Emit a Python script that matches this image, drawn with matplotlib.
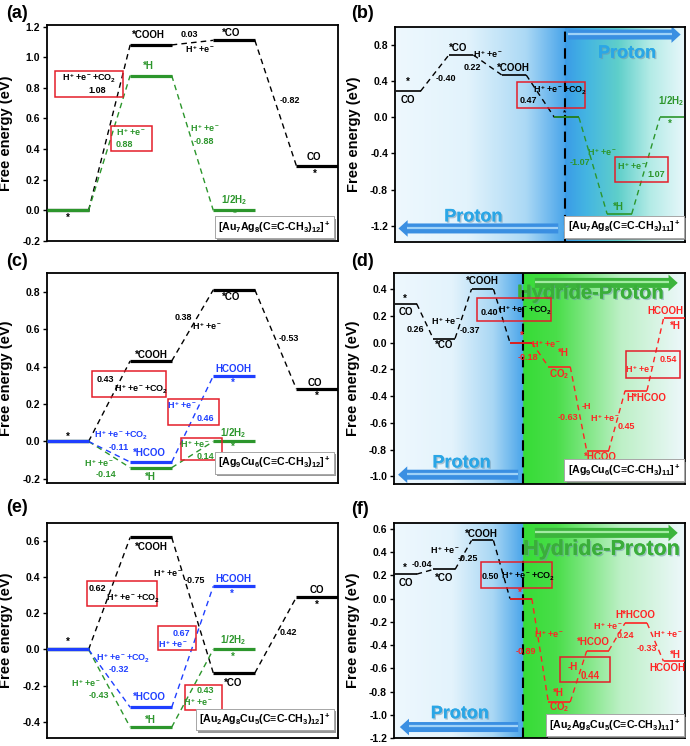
import numpy as np
import matplotlib.pyplot as plt
import matplotlib.colors as mcolors
import matplotlib.patheffects as pe
from matplotlib.patches import Rectangle

plt.rcParams['font.family'] = ['Liberation Sans', 'DejaVu Sans']
plt.rcParams['font.weight'] = 'bold'
plt.rcParams['mathtext.default'] = 'regular'
plt.rcParams['axes.linewidth'] = 1.3

GREEN = '#2c962c'
BLUE = '#1f3fff'
RED = '#ff2424'
BOXRED = '#e41e2a'

# free energies (eV) of each pathway, in drawing order
a_co = [0.0, 1.08, 1.11, 0.29]        # *, *COOH, *CO, CO
a_h2 = [0.0, 0.88, 0.0]               # *, *H, 1/2H2
b_co = [0.29, 0.69, 0.47, 0.0]        # CO, *CO, *COOH, *
b_h2 = [0.0, -1.07, 0.0]              # *, *H, 1/2H2
c_co = [0.0, 0.43, 0.81, 0.28]
c_hcooh = [0.0, -0.11, 0.35]          # *, *HCOO, HCOOH
c_h2 = [0.0, -0.14, 0.0]
d_co = [0.29, 0.03, 0.40, 0.0]
d_hcooh = [0.0, -0.18, -0.81, -0.36, 0.18]   # *, *H/CO2, *HCOO, H*HCOO, HCOOH/*H
e_co = [0.0, 0.62, -0.13, 0.29]
e_hcooh = [0.0, -0.32, 0.35]
e_h2 = [0.0, -0.43, 0.0]
f_co = [0.21, 0.25, 0.50, 0.0]
f_hcooh = [0.0, -0.89, -0.45, -0.21, -0.54]

a_ticks = [-0.2, 0.0, 0.2, 0.4, 0.6, 0.8, 1.0, 1.2]
b_ticks = [-1.2, -0.8, -0.4, 0.0, 0.4, 0.8]
c_ticks = [-0.2, 0.0, 0.2, 0.4, 0.6, 0.8]
d_ticks = [-1.0, -0.8, -0.6, -0.4, -0.2, 0.0, 0.2, 0.4]
e_ticks = [-0.4, -0.2, 0.0, 0.2, 0.4, 0.6]
f_ticks = [-1.2, -1.0, -0.8, -0.6, -0.4, -0.2, 0.0, 0.2, 0.4, 0.6]

formulas = [r'[Au$_7$Ag$_8$(C≡C-CH$_3$)$_{12}$]$^+$',
            r'[Au$_7$Ag$_8$(C≡C-CH$_3$)$_{11}$]$^+$',
            r'[Ag$_9$Cu$_6$(C≡C-CH$_3$)$_{12}$]$^+$',
            r'[Ag$_9$Cu$_6$(C≡C-CH$_3$)$_{11}$]$^+$',
            r'[Au$_2$Ag$_8$Cu$_5$(C≡C-CH$_3$)$_{12}$]$^+$',
            r'[Au$_2$Ag$_8$Cu$_5$(C≡C-CH$_3$)$_{11}$]$^+$']

HE = r'H$^+$+e$^-$'
HEC = r'H$^+$+e$^-$+CO$_2$'

fig = plt.figure(figsize=(6.9, 7.46), dpi=100)


def make_ax(l, r, t, b):
    return fig.add_axes([l / 690, 1 - b / 746, (r - l) / 690, (b - t) / 746])


def style(ax, ylim, xlim, ticks):
    ax.set_xlim(*xlim)
    ax.set_ylim(*ylim)
    ax.set_xticks([])
    ax.set_yticks(ticks)
    ax.set_yticklabels([f'{v:.1f}' for v in ticks])
    ax.tick_params(axis='y', labelsize=7.5, width=1, length=3, pad=2)
    ax.set_ylabel('Free energy (eV)', fontsize=10.5, fontweight='bold')
    ax.yaxis.set_label_coords(-0.118, 0.5)


def path(ax, energies, first, color, step, off, width, lw):
    for k, e in enumerate(energies):
        x0 = off + (first + k) * step
        ax.plot([x0, x0 + width], [e, e], color=color, lw=lw,
                solid_capstyle='butt', zorder=3)
        if k:
            xp = off + (first + k - 1) * step + width
            ax.plot([xp, x0], [energies[k - 1], e], color=color, lw=1.0,
                    ls=(0, (4, 3)), zorder=2)


def t(ax, x, y, s, c='black', fs=7, ha='center'):
    ax.text(x, y, s, color=c, fontsize=fs, ha=ha, va='center', zorder=5)


def box(ax, x0, x1, y0, y1):
    ax.add_patch(Rectangle((x0, y0), x1 - x0, y1 - y0, fill=False,
                           ec=BOXRED, lw=1.1, zorder=4))


def formula(ax, x, y, s):
    txt = ax.text(x, y, s, transform=ax.transAxes, ha='right', va='bottom',
                  fontsize=7.7, zorder=6,
                  bbox=dict(boxstyle='square,pad=0.3', fc='white', ec='#a0a0a0', lw=0.6))
    txt.get_bbox_patch().set_path_effects(
        [pe.withSimplePatchShadow(offset=(1.8, -1.8), shadow_rgbFace='#808080', alpha=0.8),
         pe.Normal()])


def background(ax, stops):
    pos = [p for p, c in stops]
    cols = np.array([mcolors.to_rgb(c) for p, c in stops])
    xx = np.linspace(0, 1, 800)
    img = np.stack([np.interp(xx, pos, cols[:, i]) for i in range(3)], axis=-1)[None, :, :]
    ax.imshow(img, extent=(0, 1, 0, 1), transform=ax.transAxes, aspect='auto',
              zorder=0, interpolation='bilinear')


def arrow(ax, x0, x1, y, color, light):
    ax.annotate('', xy=(x1, y), xytext=(x0, y), xycoords='axes fraction',
                arrowprops=dict(arrowstyle='simple,head_length=0.55,head_width=1.0,tail_width=0.6',
                                fc=color, ec='none', mutation_scale=12,
                                shrinkA=0, shrinkB=0), zorder=1.5)
    xe = x1 - 0.03 if x1 > x0 else x1 + 0.03
    ax.plot([x0, xe], [y + 0.004, y + 0.004], color=light, lw=1.6,
            transform=ax.transAxes, zorder=1.6, solid_capstyle='butt')


def big_text(ax, x, y, s, color, fs):
    ax.text(x, y, s, transform=ax.transAxes, color=color, fontsize=fs,
            ha='center', va='center', zorder=1.7,
            path_effects=[pe.withSimplePatchShadow(offset=(1, -1), shadow_rgbFace='#6a8fa8', alpha=0.5),
                          pe.Normal()])


def vline(ax, x):
    ax.axvline(x, color='black', lw=1.5, ls=(0, (5, 3)), zorder=2.5)


# ---------------- (a)
ax = make_ax(47, 338, 25, 241)
path(ax, a_co, 0, 'black', 2, 0, 1, 2.3)
path(ax, a_h2, 0, GREEN, 2, 0, 1, 2.3)
style(ax, (-0.2, 1.21), (0, 7), a_ticks)
t(ax, 0.5, -0.05, '*')
t(ax, 2.45, 1.145, '*COOH')
t(ax, 3.42, 1.15, '0.03', fs=6.5)
t(ax, 3.68, 1.05, HE, fs=6.5)
t(ax, 4.42, 1.16, '*CO')
t(ax, 5.85, 0.717, '-0.82', fs=6.5)
t(ax, 6.42, 0.35, 'CO')
t(ax, 6.45, 0.24, '*')
box(ax, 0.2, 1.84, 0.739, 0.911)
t(ax, 1.02, 0.863, HEC, fs=6.5)
t(ax, 1.22, 0.783, '1.08', fs=6.5)
t(ax, 2.45, 0.94, '*H', c=GREEN)
box(ax, 1.53, 2.53, 0.385, 0.552)
t(ax, 2.03, 0.51, HE, c=GREEN, fs=6.5)
t(ax, 1.87, 0.428, '0.88', c=GREEN, fs=6.5)
t(ax, 3.8, 0.537, HE, c=GREEN, fs=6.5)
t(ax, 3.77, 0.45, '-0.88', c=GREEN, fs=6.5)
t(ax, 4.5, 0.065, r'1/2H$_2$', c=GREEN)
t(ax, 4.52, -0.022, '*', c=GREEN)
formula(ax, 0.975, 0.03, formulas[0])

# ---------------- (b)
ax = make_ax(395, 685, 27, 242)
background(ax, [(0, '#eef8fe'), (0.25, '#e2f3fc'), (0.45, '#acd9f5'),
                (0.586, '#4aa5ea'), (0.5862, '#3a9be7'), (0.66, '#44b5e2'),
                (0.77, '#5fcfca'), (0.88, '#b3ebe6'), (1.0, '#e8f7fb')])
arrow(ax, 0.598, 0.985, 0.965, '#3a8fe2', '#9fd2f7')
arrow(ax, 0.563, 0.012, 0.063, '#3a8fe2', '#9fd2f7')
big_text(ax, 0.80, 0.878, 'Proton', '#2aa6e6', 13)
big_text(ax, 0.27, 0.117, 'Proton', '#2aa6e6', 13)
path(ax, b_co, 0, 'black', 0.99, 0.02, 0.46, 1.2)
path(ax, b_h2, 3, GREEN, 0.99, 0.02, 0.46, 1.2)
vline(ax, 3.19)
style(ax, (-1.38, 1.0), (0, 5.44), b_ticks)
t(ax, 0.25, 0.39, '*')
t(ax, 0.25, 0.19, 'CO')
t(ax, 0.96, 0.426, '-0.40', fs=6.5)
t(ax, 1.19, 0.763, '*CO')
t(ax, 1.75, 0.70, HE, fs=6.5)
t(ax, 1.46, 0.557, '0.22', fs=6.5)
t(ax, 2.22, 0.55, '*COOH')
box(ax, 2.28, 3.56, 0.108, 0.393)
t(ax, 3.09, 0.295, HEC, fs=6.5)
t(ax, 2.5, 0.187, '0.47', fs=6.5)
t(ax, 3.19, 0.05, '*', fs=6)
t(ax, 3.47, -0.505, '-1.07', c=GREEN, fs=6.5)
t(ax, 3.88, -0.385, HE, c=GREEN, fs=6.5)
t(ax, 4.19, -0.99, '*H', c=GREEN)
box(ax, 4.13, 5.13, -0.72, -0.44)
t(ax, 4.44, -0.535, HE, c=GREEN, fs=6.5)
t(ax, 4.9, -0.628, '1.07', c=GREEN, fs=6.5)
t(ax, 5.18, 0.176, r'1/2H$_2$', c=GREEN)
t(ax, 5.16, -0.067, '*', c=GREEN)
formula(ax, 0.985, 0.035, formulas[1])

# ---------------- (c)
ax = make_ax(47, 338, 273, 483)
path(ax, c_co, 0, 'black', 2, 0, 1, 2.3)
path(ax, c_h2, 0, GREEN, 2, 0, 1, 2.3)
path(ax, c_hcooh, 0, BLUE, 2, 0, 1, 2.3)
style(ax, (-0.222, 0.9), (0, 7), c_ticks)
t(ax, 0.5, 0.027, '*')
t(ax, 2.51, 0.464, '*COOH')
box(ax, 1.09, 2.86, 0.236, 0.375)
t(ax, 1.41, 0.33, '0.43', fs=6.5)
t(ax, 2.27, 0.277, HEC, fs=6.5)
t(ax, 3.27, 0.664, '0.38', fs=6.5)
t(ax, 3.84, 0.616, HE, fs=6.5)
t(ax, 4.44, 0.773, '*CO')
t(ax, 5.81, 0.548, '-0.53', fs=6.5)
t(ax, 6.45, 0.312, 'CO')
t(ax, 6.48, 0.241, '*')
t(ax, 4.48, 0.389, 'HCOOH', c=BLUE)
t(ax, 4.48, 0.312, '*', c=BLUE)
box(ax, 2.91, 4.14, 0.089, 0.229)
t(ax, 3.26, 0.193, HE, c=BLUE, fs=6.5)
t(ax, 3.82, 0.121, '0.46', c=BLUE, fs=6.5)
t(ax, 1.79, 0.03, HEC, c=BLUE, fs=6.5)
t(ax, 1.73, -0.03, '-0.11', c=BLUE, fs=6.5)
t(ax, 2.47, -0.062, '*HCOO', c=BLUE)
t(ax, 1.26, -0.116, HE, c=GREEN, fs=6.5)
t(ax, 1.41, -0.175, '-0.14', c=GREEN, fs=6.5)
t(ax, 2.49, -0.188, '*H', c=GREEN)
box(ax, 3.23, 4.2, -0.098, 0.021)
t(ax, 3.56, -0.013, HE, c=GREEN, fs=6.5)
t(ax, 3.82, -0.08, '0.14', c=GREEN, fs=6.5)
t(ax, 4.48, 0.045, r'1/2H$_2$', c=GREEN)
t(ax, 4.48, -0.03, '*', c=GREEN)
formula(ax, 0.975, 0.06, formulas[2])

# ---------------- (d)
ax = make_ax(394, 685, 273, 484)
background(ax, [(0, '#eef8fe'), (0.2, '#e3f3fc'), (0.34, '#a9d7f4'),
                (0.444, '#4aa5ea'), (0.4442, '#36dc36'), (0.56, '#4ade4a'),
                (0.78, '#bdf0c6'), (1.0, '#eef8fc')])
arrow(ax, 0.484, 0.975, 0.953, '#3cb43c', '#a2eba2')
arrow(ax, 0.427, 0.014, 0.044, '#3a8fe2', '#9fd2f7')
big_text(ax, 0.675, 0.905, 'Hydride-Proton', '#3aae3a', 14.5)
big_text(ax, 0.232, 0.10, 'Proton', '#2aa6e6', 13)
path(ax, d_co, 0, 'black', 1, 0.02, 0.57, 1.2)
path(ax, d_hcooh, 3, RED, 1, 0.02, 0.57, 1.2)
vline(ax, 3.35)
style(ax, (-1.058, 0.52), (0, 7.58), d_ticks)
t(ax, 0.28, 0.325, '*')
t(ax, 0.3, 0.226, 'CO')
t(ax, 0.56, 0.096, '0.26', fs=6.5)
t(ax, 1.37, 0.163, HE, fs=6.5)
t(ax, 1.97, 0.091, '-0.37', fs=6.5)
t(ax, 1.3, -0.021, '*CO')
t(ax, 2.3, 0.457, '*COOH')
box(ax, 2.15, 4.1, 0.163, 0.333)
t(ax, 2.48, 0.226, '0.40', fs=6.5)
t(ax, 3.41, 0.24, HEC, fs=6.5)
t(ax, 3.32, 0.05, '*', c=RED)
t(ax, 3.95, -0.011, HE, c=RED, fs=6.5)
t(ax, 3.5, -0.11, '-0.18', c=RED, fs=6.5)
t(ax, 4.4, -0.075, '*H', c=RED)
t(ax, 4.3, -0.235, r'CO$_2$', c=RED)
t(ax, 5.02, -0.477, '-H', c=RED, fs=6.5)
t(ax, 4.52, -0.559, '-0.63', c=RED, fs=6.5)
t(ax, 5.5, -0.564, HE, c=RED, fs=6.5)
t(ax, 6.06, -0.631, '0.45', c=RED, fs=6.5)
t(ax, 5.37, -0.855, '*HCOO', c=RED)
t(ax, 6.58, -0.414, 'H*HCOO', c=RED)
box(ax, 6.04, 7.45, -0.265, -0.066)
t(ax, 6.41, -0.198, HE, c=RED, fs=6.5)
t(ax, 7.15, -0.128, '0.54', c=RED, fs=6.5)
t(ax, 7.54, 0.238, 'HCOOH', c=RED, ha='right')
t(ax, 7.32, 0.12, '*H', c=RED)
formula(ax, 0.985, 0.03, formulas[3])

# ---------------- (e)
ax = make_ax(47, 338, 523, 738)
path(ax, e_co, 0, 'black', 2, 0, 1, 2.3)
path(ax, e_h2, 0, GREEN, 2, 0, 1, 2.3)
path(ax, e_hcooh, 0, BLUE, 2, 0, 1, 2.3)
style(ax, (-0.49, 0.7), (0, 7), e_ticks)
t(ax, 0.5, 0.043, '*')
t(ax, 2.51, 0.565, '*COOH')
box(ax, 0.97, 2.65, 0.24, 0.38)
t(ax, 1.22, 0.338, '0.62', fs=6.5)
t(ax, 2.07, 0.283, HEC, fs=6.5)
t(ax, 2.91, 0.42, HE, fs=6.5)
t(ax, 3.56, 0.384, '-0.75', fs=6.5)
t(ax, 4.48, 0.388, 'HCOOH', c=BLUE)
t(ax, 4.45, 0.31, '*', c=BLUE)
box(ax, 2.67, 3.58, -0.003, 0.13)
t(ax, 3.23, 0.089, '0.67', c=BLUE, fs=6.5)
t(ax, 3.03, 0.028, HE, c=BLUE, fs=6.5)
t(ax, 4.48, 0.052, r'1/2H$_2$', c=GREEN)
t(ax, 4.48, -0.04, '*', c=GREEN)
t(ax, 4.48, -0.184, '*CO')
t(ax, 6.48, 0.329, 'CO')
t(ax, 6.48, 0.246, '*')
t(ax, 5.81, 0.093, '0.42', fs=6.5)
t(ax, 1.83, -0.049, HEC, c=BLUE, fs=6.5)
t(ax, 1.73, -0.11, '-0.32', c=BLUE, fs=6.5)
t(ax, 2.47, -0.265, '*HCOO', c=BLUE)
t(ax, 0.93, -0.184, HE, c=GREEN, fs=6.5)
t(ax, 1.25, -0.252, '-0.43', c=GREEN, fs=6.5)
t(ax, 2.49, -0.391, '*H', c=GREEN)
box(ax, 3.31, 4.22, -0.335, -0.197)
t(ax, 3.8, -0.228, '0.43', c=GREEN, fs=6.5)
t(ax, 3.64, -0.289, HE, c=GREEN, fs=6.5)
formula(ax, 0.975, 0.05, formulas[4])

# ---------------- (f)
ax = make_ax(394, 685, 523, 738)
background(ax, [(0, '#eef8fe'), (0.2, '#e3f3fc'), (0.34, '#a9d7f4'),
                (0.444, '#4aa5ea'), (0.4442, '#36dc36'), (0.56, '#4ade4a'),
                (0.78, '#bdf0c6'), (1.0, '#eef8fc')])
arrow(ax, 0.484, 0.975, 0.954, '#3cb43c', '#a2eba2')
arrow(ax, 0.427, 0.02, 0.051, '#3a8fe2', '#9fd2f7')
big_text(ax, 0.713, 0.877, 'Hydride-Proton', '#3aae3a', 15.5)
big_text(ax, 0.226, 0.113, 'Proton', '#2aa6e6', 13)
path(ax, f_co, 0, 'black', 1, 0.02, 0.57, 1.2)
path(ax, f_hcooh, 3, RED, 1, 0.02, 0.57, 1.2)
vline(ax, 3.35)
style(ax, (-1.2, 0.65), (0, 7.58), f_ticks)
t(ax, 0.28, 0.26, '*')
t(ax, 0.3, 0.131, 'CO')
t(ax, 0.73, 0.294, '-0.04', fs=6.5)
t(ax, 1.3, 0.18, '*CO')
t(ax, 1.33, 0.415, HE, fs=6.5)
t(ax, 1.93, 0.345, '-0.25', fs=6.5)
t(ax, 2.28, 0.557, '*COOH')
box(ax, 2.26, 4.12, 0.089, 0.314)
t(ax, 2.51, 0.189, '0.50', fs=6.5)
t(ax, 3.5, 0.189, HEC, fs=6.5)
t(ax, 3.28, 0.046, '*', c=RED)
t(ax, 4.03, -0.306, HE, c=RED, fs=6.5)
t(ax, 3.43, -0.454, '-0.89', c=RED, fs=6.5)
t(ax, 4.28, -0.815, '*H', c=RED)
t(ax, 4.3, -0.935, r'CO$_2$', c=RED)
box(ax, 4.32, 5.63, -0.72, -0.5)
t(ax, 4.65, -0.586, '-H', c=RED)
t(ax, 5.1, -0.669, '0.44', c=RED)
t(ax, 5.19, -0.377, '*HCOO', c=RED)
t(ax, 5.58, -0.24, HE, c=RED, fs=6.5)
t(ax, 6.02, -0.32, '0.24', c=RED, fs=6.5)
t(ax, 6.28, -0.14, 'H*HCOO', c=RED)
t(ax, 7.13, -0.306, HE, c=RED, fs=6.5)
t(ax, 6.58, -0.434, '-0.33', c=RED, fs=6.5)
t(ax, 7.32, -0.483, '*H', c=RED)
t(ax, 7.13, -0.6, 'HCOOH', c=RED)
formula(ax, 0.985, 0.025, formulas[5])

for lab, x, y in [('(a)', 6, 14), ('(b)', 351, 14), ('(c)', 6, 262),
                  ('(d)', 351, 262), ('(e)', 6, 507), ('(f)', 351, 510)]:
    fig.text(x / 690, 1 - y / 746, lab, fontsize=13, fontweight='bold', va='center')

fig.savefig('out.png', dpi=100)
